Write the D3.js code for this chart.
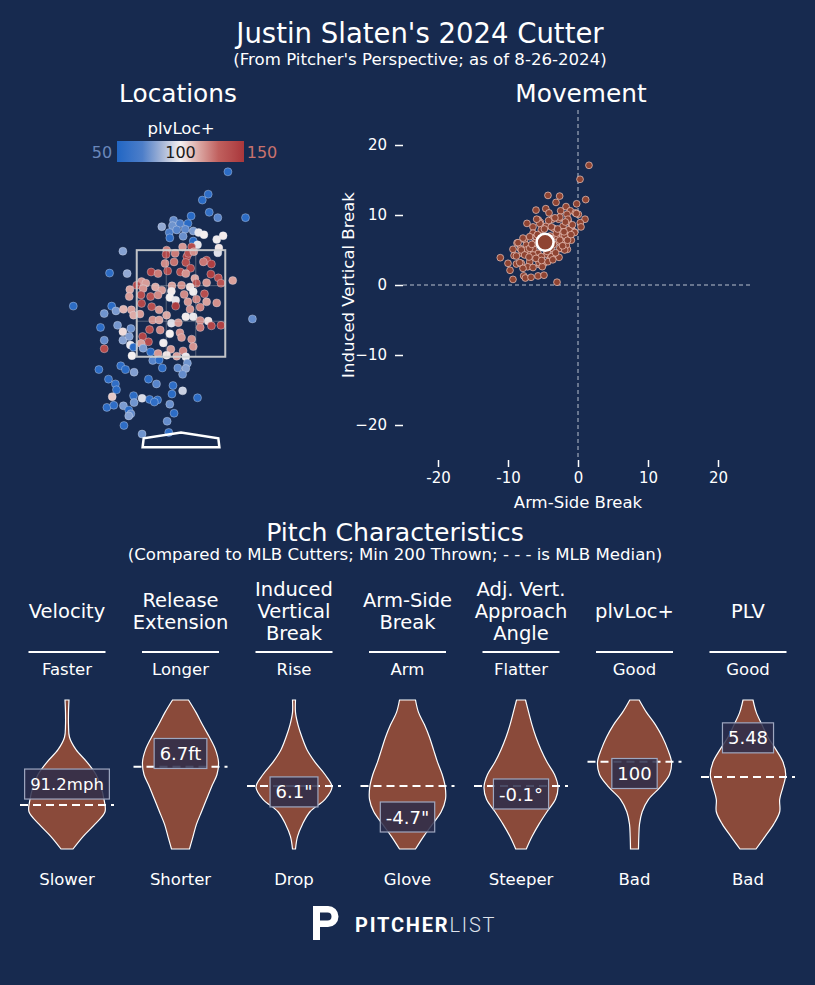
<!DOCTYPE html>
<html>
<head>
<meta charset="utf-8">
<script src="https://cdn.jsdelivr.net/npm/d3@7"></script>
<style>
  body { margin: 0; background: #172a4f; }
  text { font-family: "DejaVu Sans", sans-serif; fill: #fff; }
</style>
</head>
<body>
<div id="chart"></div>
<script>
// ---- data ----

// pitch locations: [plate x (ft), plate z (ft), plvLoc+]
const locationPitches = [
  [0.88,4.97,55],[0.51,4.55,56],[0.40,4.44,54],[0.53,4.21,58],[0.69,4.11,72],[1.21,4.11,55],[0.19,4.14,53],
  [-0.14,4.06,74],[-0.36,3.94,82],[-0.16,3.96,76],[-0.02,4.00,70],[0.13,4.00,54],[0.08,3.89,73],[-0.22,3.83,68],
  [-0.21,3.73,56],[-0.08,3.88,72],[0.04,3.76,75],[0.23,3.86,78],[0.33,3.83,98],[0.43,3.79,100],[0.67,3.70,99],
  [0.79,3.77,101],[0.23,3.67,55],[0.31,3.60,97],[0.71,3.54,102],[0.69,3.45,96],[-1.09,3.48,80],
  [-0.27,3.50,122],[0.03,3.56,118],[0.20,3.56,140],[-0.28,3.42,142],[-0.11,3.44,124],[0.11,3.38,145],[0.14,3.44,138],
  [0.24,3.47,120],[0.48,3.31,140],[0.57,3.24,146],[0.42,3.28,125],[-0.30,3.25,121],[-0.13,3.28,126],[0.09,3.27,139],
  [0.18,3.16,143],[-1.34,3.07,55],[-1.01,3.06,82],[-0.56,3.09,144],[-0.43,3.06,124],[-0.25,3.11,141],[-0.01,3.09,138],
  [0.09,3.06,119],[0.26,2.97,115],[0.56,3.05,146],[0.70,2.98,140],[0.75,2.88,137],[0.97,2.93,116],[0.48,2.89,118],
  [0.29,2.88,136],[-0.74,2.91,118],[-0.83,2.84,141],[-0.66,2.88,117],[-0.48,2.81,114],[-0.17,2.83,116],[0.01,2.84,120],
  [0.17,2.81,103],[-0.96,2.76,115],[-0.71,2.78,119],[-0.36,2.75,117],[-0.18,2.73,101],[0.06,2.67,121],[0.23,2.72,99],
  [0.44,2.68,139],[-0.97,2.63,117],[-0.75,2.66,140],[-0.57,2.63,137],[-0.43,2.66,121],[-0.21,2.61,100],[-0.10,2.56,97],
  [0.13,2.53,118],[0.29,2.58,122],[0.48,2.53,116],[0.67,2.51,120],[-1.30,2.45,54],[-2.02,2.45,55],[-1.44,2.31,76],
  [-1.22,2.36,78],[-1.08,2.39,112],[-0.93,2.38,116],[-0.74,2.50,142],[-0.55,2.44,139],[-0.41,2.38,118],[-0.27,2.28,115],
  [-0.10,2.45,147],[0.17,2.39,119],[0.36,2.43,123],[0.23,2.25,98],[0.09,2.25,101],[-0.77,2.30,117],[-0.89,2.28,114],
  [-0.53,2.19,120],[-0.41,2.19,116],[-0.18,2.13,96],[-0.05,2.14,118],[0.36,2.18,121],[0.51,2.17,103],[0.57,2.08,142],
  [0.75,2.09,145],[1.34,2.21,74],[-1.51,2.05,55],[-1.19,2.09,77],[-0.94,2.03,75],[-1.09,1.97,104],[-0.59,2.01,139],
  [-0.39,2.00,121],[-0.21,1.93,100],[-0.02,1.95,119],[0.36,2.05,125],[-1.44,1.81,74],[-1.09,1.81,80],[-0.97,1.88,79],
  [-0.72,1.88,143],[-0.61,1.78,141],[-0.75,1.75,116],[-0.33,1.76,99],[0.01,1.86,118],[0.20,1.83,120],[-1.44,1.65,140],
  [-0.95,1.72,98],[-0.89,1.68,54],[-0.71,1.66,78],[-0.19,1.64,117],[0.04,1.61,122],[0.23,1.69,119],[-0.92,1.52,100],
  [-0.57,1.59,55],[-0.43,1.56,118],[-0.27,1.53,102],[-0.08,1.51,116],[0.09,1.50,98],[-0.53,1.43,72],[-0.41,1.44,54],
  [-0.35,1.29,55],[0.12,1.38,76],[-0.06,1.29,73],[0.09,1.28,80],[0.03,1.17,74],[-1.54,1.26,55],[-1.13,1.33,56],
  [-1.04,1.26,54],[-0.88,1.21,79],[-1.36,1.08,56],[-1.23,0.99,57],[-1.21,0.88,54],[-0.61,1.08,55],[-0.46,0.99,72],
  [-0.15,0.96,56],[0.03,0.86,92],[-0.17,0.80,54],[0.31,0.73,55],[-1.29,0.75,108],[-0.89,0.77,55],[-0.88,0.64,76],
  [-0.73,0.72,95],[-0.59,0.70,56],[-0.44,0.69,54],[-0.50,0.65,57],[-0.21,0.61,75],[-1.39,0.55,55],[-1.26,0.59,56],
  [-1.08,0.58,78],[-0.98,0.50,54],[-0.94,0.43,74],[-0.98,0.39,80],[-0.13,0.44,55],[-1.07,0.21,56],[-0.26,0.29,74],
  [-0.73,0.05,76],[-0.23,0.08,57]
];

// movement: [arm-side break (in), induced vertical break (in)]
const movementPitches = [
  [1.57,17.1],[0.29,15.1],[1.10,12.2],[-4.29,12.8],[-2.62,12.7],[-3.14,11.8],[-0.19,11.6],[-1.71,11.2],
  [-6.0,10.7],[-4.6,10.9],[-4.14,10.3],[-2.48,10.6],[-1.10,10.6],[-0.38,10.3],[-1.57,10.1],[0.05,10.1],
  [1.0,9.4],[0.33,8.9],[0.43,8.3],[-7.29,8.8],[-5.67,9.3],[-5.38,8.95],[-2.76,9.4],[-1.38,9.05],
  [-6.43,8.3],[-4.52,8.4],[-3.48,8.1],[-2.14,8.4],[-0.95,8.3],[-0.57,7.6],[-2.38,7.6],[-6.43,7.4],
  [-7.62,6.5],[-6.9,6.9],[-3.1,6.9],[-2.14,7.0],[-1.19,6.8],[-8.71,6.0],[-7.38,5.7],[-5.95,6.2],
  [-2.71,6.2],[-1.86,6.0],[-9.29,5.1],[-8.24,5.2],[-7.38,5.0],[-6.33,5.1],[-3.81,5.2],[-2.38,5.2],
  [-1.52,5.1],[-9.14,4.2],[-7.95,4.5],[-6.9,4.3],[-5.71,4.5],[-4.52,4.4],[-3.48,4.4],[-11.1,3.9],
  [-10.0,3.1],[-8.8,3.0],[-8.1,3.1],[-6.9,3.3],[-5.71,3.8],[-4.86,3.1],[-3.95,3.8],[-2.71,3.95],
  [-9.71,2.1],[-7.19,2.6],[-6.43,2.5],[-5.48,2.9],[-9.29,0.8],[-7.76,1.3],[-7.52,1.0],[-6.71,1.1],
  [-5.71,1.3],[-4.86,1.4],[-3.0,0.4],[-0.24,10.2],[-3.67,9.4],[-2.6,9.7],[-1.43,9.4],[-5.47,8.8],
  [-5.24,7.9],[-3.81,8.3],[-1.29,7.9],[-0.48,7.5],[-3.1,7.4],[-1.9,7.1],[-7.86,6.7],[-5.95,6.9],
  [-2.6,6.4],[-1.67,5.7],[-0.95,6.4],[-8.57,6.05],[-8.1,5.0],[-6.9,5.24],[-2.6,5.24],[-1.9,5.0],
  [-8.8,4.14],[-7.62,4.29],[-6.43,4.29],[-5.24,4.05],[-3.81,4.05],[-8.33,3.19],[-5.57,3.19],[-4.29,3.33],
  [-7.86,2.38],[-5.1,2.62],[-5.5,6.5],[-4.0,7.0],[-3.5,5.8],[-5.0,5.5],[-6.2,6.0],[-4.4,4.8],
  [-3.8,6.6],[-5.8,7.2],[-3.2,4.6],[-6.0,3.8],[-2.9,8.0],[-4.8,8.0],[-5.2,3.5],[-3.6,3.6],
  [-6.6,5.8],[-7.0,4.0],[-2.2,5.6],[-1.5,6.4],[-2.0,7.6],[-1.0,7.2],[-0.8,8.6],[-1.8,9.0],
  [-3.3,9.6],[-4.2,9.2],[-5.9,9.4]
];
const movementAverage = [-4.7, 6.1];

const strikeZoneX = [-0.83, 0.83];
const strikeZoneZ = [1.5, 3.5];
const homePlate = [[-0.72,-0.2],[0.72,-0.2],[0.70,-0.03],[0,0.08],[-0.70,-0.03]];
const movementTicks = [-20, -10, 0, 10, 20];

// pitch characteristics
const metricNames = [
  ["Velocity"], ["Release", "Extension"], ["Induced", "Vertical", "Break"], ["Arm-Side", "Break"],
  ["Adj. Vert.", "Approach", "Angle"], ["plvLoc+"], ["PLV"]
];
const topLabels = ["Faster", "Longer", "Rise", "Arm", "Flatter", "Good", "Good"];
const bottomLabels = ["Slower", "Shorter", "Drop", "Glove", "Steeper", "Bad", "Bad"];
const valueLabels = ["91.2mph", "6.7ft", "6.1\"", "-4.7\"", "-0.1°", "100", "5.48"];
const pitcherValues = [91.2, 6.7, 6.1, -4.7, -0.1, 100, 5.48];
const mlbMedians = [89.0, 6.48, 7.1, -1.6, 0.06, 104.7, 4.83];
const violinLow = [84.4, 5.11, -3.4, -7.9, -1.2, 69.8, 3.63];
const violinHigh = [100.0, 7.59, 21.4, 7.0, 1.78, 129.4, 6.11];
// kde density, sampled evenly from violinHigh (top) down to violinLow (bottom)
const violinDensity = [
  [2, 1.5, 1.5, 2.5, 9, 20, 29, 34, 37, 38, 28, 16, 6],
  [8, 15.5, 22, 29, 35, 38, 36.5, 31, 26, 21, 16, 12.5, 9],
  [1.5, 1.5, 4, 8, 13, 21, 31, 38, 31, 16, 8.5, 3.5, 1.5],
  [8, 11, 17, 22, 26, 30, 34.7, 37.7, 38, 33.7, 25, 16, 8],
  [4.5, 7.7, 11, 15, 20, 26, 33.5, 37, 34.5, 26, 18, 11, 5.3],
  [4.7, 12, 21, 28, 33.3, 37, 35, 26, 14, 7.7, 5, 4.3, 4],
  [5, 8.3, 14, 20, 28, 35, 37.7, 35, 31.7, 31.7, 25.7, 17, 8]
];

// ---- drawing ----
const W = 815, H = 985;
const bg = "#172a4f";
const svg = d3.select("#chart").append("svg")
    .attr("width", W)
    .attr("height", H);
svg.append("rect").attr("width", W).attr("height", H).attr("fill", bg);

function addText(x, y, txt, size, anchor = "middle") {
  return svg.append("text")
      .attr("x", x).attr("y", y)
      .attr("text-anchor", anchor)
      .attr("dominant-baseline", "central")
      .style("font-size", size + "px")
      .text(txt);
}

// titles
addText(420, 33, "Justin Slaten's 2024 Cutter", 27.5);
addText(420, 59, "(From Pitcher's Perspective; as of 8-26-2024)", 16.6);
addText(178, 93, "Locations", 24.8);
addText(581, 93, "Movement", 24.8);
addText(395, 532, "Pitch Characteristics", 25.2);
addText(395, 554, "(Compared to MLB Cutters; Min 200 Thrown; - - - is MLB Median)", 16.6);

// ---------- Locations ----------
const locX = d3.scaleLinear().domain([-2.5, 2.5]).range([47.7, 314.3]);
const locZ = d3.scaleLinear().domain([0, 5]).range([436.7, 170.2]);
const plvColor = d3.scaleLinear()
    .domain([50, 70, 85, 100, 115, 130, 150])
    .range(["#2166c4", "#4d7ec9", "#a3b4d6", "#f5f0f0", "#dba6a2", "#c0605e", "#a9373b"])
    .clamp(true);

// colorbar
const defs = svg.append("defs");
const grad = defs.append("linearGradient").attr("id", "cbar");
d3.range(50, 151, 5).forEach(v => {
  grad.append("stop").attr("offset", (v - 50) + "%").attr("stop-color", plvColor(v));
});
const cbar = d3.scaleLinear().domain([50, 150]).range([117, 244]);
svg.append("rect")
    .attr("x", cbar(50)).attr("y", 141)
    .attr("width", cbar(150) - cbar(50)).attr("height", 21)
    .attr("fill", "url(#cbar)");
addText(181, 128, "plvLoc+", 16.6);
addText(cbar(50) - 15, 152, "50", 16).style("fill", "#6a87ba");
addText(cbar(100), 152, "100", 16).style("fill", "#1a1a1a");
addText(cbar(150) + 18, 152, "150", 16).style("fill", "#c8726e");

svg.append("g").selectAll("circle")
    .data(locationPitches)
    .join("circle")
    .attr("cx", d => locX(d[0]))
    .attr("cy", d => locZ(d[1]))
    .attr("r", 4)
    .attr("fill", d => plvColor(d[2]))
    .attr("stroke", "#e8ecf4")
    .attr("stroke-width", 0.5)
    .attr("stroke-opacity", 0.7);

// strike zone with inner thirds
const zoneG = svg.append("g");
[1, 2].forEach(k => {
  const xv = strikeZoneX[0] + (strikeZoneX[1] - strikeZoneX[0]) * k / 3;
  const zv = strikeZoneZ[0] + (strikeZoneZ[1] - strikeZoneZ[0]) * k / 3;
  zoneG.append("line")
      .attr("x1", locX(xv)).attr("x2", locX(xv))
      .attr("y1", locZ(strikeZoneZ[0])).attr("y2", locZ(strikeZoneZ[1]))
      .attr("stroke", "#d0d0d0").attr("stroke-opacity", 0.35).attr("stroke-width", 1);
  zoneG.append("line")
      .attr("x1", locX(strikeZoneX[0])).attr("x2", locX(strikeZoneX[1]))
      .attr("y1", locZ(zv)).attr("y2", locZ(zv))
      .attr("stroke", "#d0d0d0").attr("stroke-opacity", 0.35).attr("stroke-width", 1);
});
zoneG.append("rect")
    .attr("x", locX(strikeZoneX[0])).attr("y", locZ(strikeZoneZ[1]))
    .attr("width", locX(strikeZoneX[1]) - locX(strikeZoneX[0]))
    .attr("height", locZ(strikeZoneZ[0]) - locZ(strikeZoneZ[1]))
    .attr("fill", "none").attr("stroke", "#d4d4d4").attr("stroke-opacity", 0.9).attr("stroke-width", 2);

svg.append("path")
    .attr("d", "M" + homePlate.map(p => [locX(p[0]), locZ(p[1])].join(",")).join("L") + "Z")
    .attr("fill", "none").attr("stroke", "#fff").attr("stroke-width", 2.5);

// ---------- Movement ----------
const mvX = d3.scaleLinear().domain([-25, 25]).range([403, 753]);
const mvY = d3.scaleLinear().domain([-25, 25]).range([460, 110]);

svg.append("line")
    .attr("x1", mvX(-25)).attr("x2", mvX(25))
    .attr("y1", mvY(0)).attr("y2", mvY(0))
    .attr("stroke", "#b9c0cf").attr("stroke-width", 1).attr("stroke-dasharray", "4,3");
svg.append("line")
    .attr("x1", mvX(0)).attr("x2", mvX(0))
    .attr("y1", mvY(25)).attr("y2", mvY(-25))
    .attr("stroke", "#b9c0cf").attr("stroke-width", 1).attr("stroke-dasharray", "4,3");

const yAxis = svg.append("g")
    .attr("transform", "translate(" + mvX(-25) + ",0)")
    .call(d3.axisLeft(mvY).tickValues(movementTicks).tickSize(8).tickPadding(8));
const xAxis = svg.append("g")
    .attr("transform", "translate(0," + mvY(-25) + ")")
    .call(d3.axisBottom(mvX).tickValues(movementTicks).tickFormat(d => String(d)).tickSize(7).tickPadding(5));
[xAxis, yAxis].forEach(a => {
  a.select(".domain").remove();
  a.selectAll(".tick line").attr("stroke", "#fff").attr("stroke-width", 1.5);
  a.selectAll(".tick text")
      .style("fill", "#fff")
      .style("font-size", "15px")
      .style("font-family", "DejaVu Sans, sans-serif");
});
addText(578, 502, "Arm-Side Break", 16.5);
addText(0, 0, "Induced Vertical Break", 16.5)
    .attr("transform", "translate(348,285) rotate(-90)");

svg.append("g").selectAll("circle")
    .data(movementPitches)
    .join("circle")
    .attr("cx", d => mvX(d[0]))
    .attr("cy", d => mvY(d[1]))
    .attr("r", 3.4)
    .attr("fill", "#8f4432")
    .attr("stroke", "#efc9bf")
    .attr("stroke-width", 0.7);
svg.append("circle")
    .attr("cx", mvX(movementAverage[0]))
    .attr("cy", mvY(movementAverage[1]))
    .attr("r", 8.5)
    .attr("fill", "#8f4432")
    .attr("stroke", "#fff")
    .attr("stroke-width", 2.6);

// ---------- Pitch Characteristics ----------
const colX = d3.scalePoint().domain(d3.range(metricNames.length)).range([67, 748]);
const halfW = d3.scaleLinear()
    .domain([0, d3.max(violinDensity, d => d3.max(d))])
    .range([0, 38]);

metricNames.forEach((name, i) => {
  const cx = colX(i);

  // header
  name.forEach((line, j) => {
    addText(cx, 611 + (j - (name.length - 1) / 2) * 22, line, 19.5);
  });
  svg.append("line")
      .attr("x1", cx - 38.5).attr("x2", cx + 38.5)
      .attr("y1", 652).attr("y2", 652)
      .attr("stroke", "#fff").attr("stroke-width", 2);
  addText(cx, 669, topLabels[i], 16.5);
  addText(cx, 879, bottomLabels[i], 16.5);

  // violin
  const vy = d3.scaleLinear().domain([violinLow[i], violinHigh[i]]).range([849, 700]);
  const dens = violinDensity[i];
  const step = (violinHigh[i] - violinLow[i]) / (dens.length - 1);
  const area = d3.area()
      .curve(d3.curveCatmullRom)
      .y((d, k) => vy(violinHigh[i] - k * step))
      .x0(d => cx - halfW(d))
      .x1(d => cx + halfW(d));
  svg.append("path")
      .attr("d", area(dens))
      .attr("fill", "#8a4a3a")
      .attr("stroke", "#fff")
      .attr("stroke-width", 1.2);

  // MLB median
  svg.append("line")
      .attr("x1", cx - 47).attr("x2", cx + 47)
      .attr("y1", vy(mlbMedians[i])).attr("y2", vy(mlbMedians[i]))
      .attr("stroke", "#fff").attr("stroke-width", 2)
      .attr("stroke-dasharray", "8,5");

  // pitcher value box
  const g = svg.append("g");
  const t = g.append("text")
      .attr("x", cx).attr("y", vy(pitcherValues[i]))
      .attr("text-anchor", "middle")
      .attr("dominant-baseline", "central")
      .style("font-size", i === 0 ? "16.5px" : "18px")
      .text(valueLabels[i]);
  const tw = t.node().getComputedTextLength();
  g.insert("rect", "text")
      .attr("x", cx - tw / 2 - 5.5).attr("y", vy(pitcherValues[i]) - 15)
      .attr("width", tw + 11).attr("height", 30)
      .attr("fill", "#2c2d4b").attr("fill-opacity", 0.85)
      .attr("stroke", "#9ea7c0").attr("stroke-width", 1.2);
});

// ---------- logo ----------
svg.append("path")
    .attr("d", "M313,906 h15 a10.5,10.5 0 0 1 0,21 h-8 v13 h-7 Z M320,912.5 h7.5 a4,4 0 0 1 0,8 h-7.5 Z")
    .attr("fill", "#fff")
    .attr("fill-rule", "evenodd");
const logo = svg.append("text")
    .attr("x", 355).attr("y", 932)
    .style("font-family", "Roboto, sans-serif")
    .style("font-size", "20px")
    .style("letter-spacing", "1.8px");
logo.append("tspan").style("font-weight", "bold").text("PITCHER");
logo.append("tspan").style("font-weight", "300").style("fill", "#dfe3ec").text("LIST");
</script>
</body>
</html>
